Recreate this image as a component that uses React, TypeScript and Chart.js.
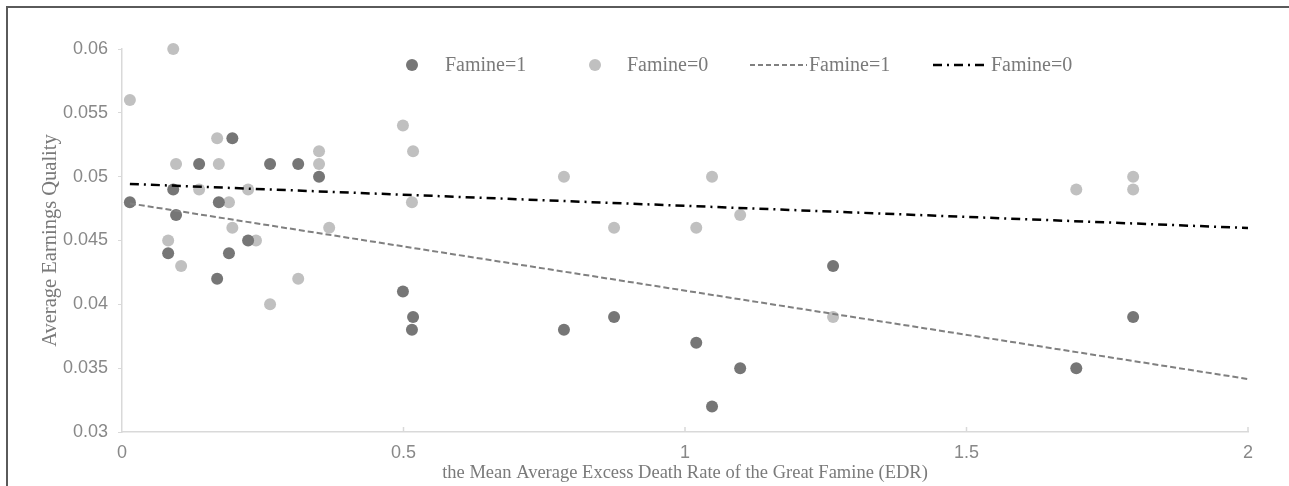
import React, { useEffect, useRef } from "react";
import { Chart, registerables } from "chart.js";

Chart.register(...registerables);

// Famine = 1 (dark points)
const famine1X = [0.014, 0.082, 0.091, 0.096, 0.137, 0.169, 0.172, 0.19, 0.196, 0.224, 0.263, 0.313, 0.35, 0.499, 0.517, 0.515, 0.785, 0.874, 1.02, 1.048, 1.098, 1.263, 1.695, 1.796];
const famine1Y = [0.048, 0.044, 0.049, 0.047, 0.051, 0.042, 0.048, 0.044, 0.053, 0.045, 0.051, 0.051, 0.05, 0.041, 0.039, 0.038, 0.038, 0.039, 0.037, 0.032, 0.035, 0.043, 0.035, 0.039];

// Famine = 0 (light points)
const famine0X = [0.014, 0.082, 0.091, 0.096, 0.105, 0.137, 0.169, 0.172, 0.19, 0.196, 0.224, 0.238, 0.263, 0.313, 0.35, 0.35, 0.368, 0.499, 0.517, 0.515, 0.785, 0.874, 1.02, 1.048, 1.098, 1.263, 1.695, 1.796, 1.796];
const famine0Y = [0.056, 0.045, 0.06, 0.051, 0.043, 0.049, 0.053, 0.051, 0.048, 0.046, 0.049, 0.045, 0.04, 0.042, 0.052, 0.051, 0.046, 0.054, 0.052, 0.048, 0.05, 0.046, 0.046, 0.05, 0.047, 0.039, 0.049, 0.05, 0.049];

// Linear trend lines
const trendX = [0.014, 2];
const trend1Y = [0.0479, 0.03415];
const trend0Y = [0.04943, 0.04598];

const legendLabels = ["Famine=1", "Famine=0", "Famine=1", "Famine=0"];
const xTitle = "the Mean Average Excess Death Rate of the Great Famine (EDR)";
const yTitle = "Average Earnings Quality";

const DARK = "#767676";
const LIGHT = "#c0c0c0";
const AXIS = "#d9d9d9";
const TICK_TEXT = "#888888";
const TITLE_TEXT = "#7a7a7a";

const toPts = (xs: number[], ys: number[]) => xs.map((x, i) => ({ x, y: ys[i] }));

const customPlugin = {
  id: "custom",
  afterDraw(chart: any) {
    const ctx = chart.ctx;
    const xs = chart.scales.x;
    const area = chart.chartArea;
    ctx.save();
    // upward x tick marks
    ctx.strokeStyle = AXIS;
    ctx.lineWidth = 1.5;
    xs.ticks.forEach((t: any) => {
      const px = xs.getPixelForValue(t.value);
      if (px <= area.left + 1) return;
      ctx.beginPath();
      ctx.moveTo(px, area.bottom);
      ctx.lineTo(px, area.bottom - 5);
      ctx.stroke();
    });
    // legend
    const ly = 65;
    ctx.font = "20px 'Liberation Serif', 'DejaVu Serif', serif";
    ctx.textBaseline = "middle";
    ctx.textAlign = "left";
    ctx.fillStyle = DARK;
    ctx.beginPath();
    ctx.arc(412, ly, 6, 0, Math.PI * 2);
    ctx.fill();
    ctx.fillStyle = LIGHT;
    ctx.beginPath();
    ctx.arc(595, ly, 6, 0, Math.PI * 2);
    ctx.fill();
    ctx.strokeStyle = "#808080";
    ctx.lineWidth = 2;
    ctx.setLineDash([5, 3]);
    ctx.beginPath();
    ctx.moveTo(750, ly);
    ctx.lineTo(807, ly);
    ctx.stroke();
    ctx.strokeStyle = "#000000";
    ctx.lineWidth = 2.5;
    ctx.setLineDash([9, 5, 2, 5]);
    ctx.beginPath();
    ctx.moveTo(933, ly);
    ctx.lineTo(988, ly);
    ctx.stroke();
    ctx.setLineDash([]);
    ctx.fillStyle = TITLE_TEXT;
    ctx.fillText(legendLabels[0], 445, ly + 1);
    ctx.fillText(legendLabels[1], 627, ly + 1);
    ctx.fillText(legendLabels[2], 809, ly + 1);
    ctx.fillText(legendLabels[3], 991, ly + 1);
    ctx.restore();
  },
};

export default function App() {
  const ref = useRef<HTMLCanvasElement | null>(null);

  useEffect(() => {
    if (!ref.current) return;
    const chart = new Chart(ref.current, {
      type: "scatter",
      data: {
        datasets: [
          {
            type: "line",
            label: "Famine=1 trend",
            data: toPts(trendX, trend1Y),
            borderColor: "#808080",
            borderWidth: 2,
            borderDash: [6, 3],
            pointRadius: 0,
            fill: false,
            order: 1,
          } as any,
          {
            type: "line",
            label: "Famine=0 trend",
            data: toPts(trendX, trend0Y),
            borderColor: "#000000",
            borderWidth: 2.5,
            borderDash: [9, 5, 2, 5],
            pointRadius: 0,
            fill: false,
            order: 1,
          } as any,
          {
            label: "Famine=1",
            data: toPts(famine1X, famine1Y),
            backgroundColor: DARK,
            borderColor: DARK,
            pointRadius: 6,
            borderWidth: 0,
            clip: false,
            order: 2,
          } as any,
          {
            label: "Famine=0",
            data: toPts(famine0X, famine0Y),
            backgroundColor: LIGHT,
            borderColor: LIGHT,
            pointRadius: 6,
            borderWidth: 0,
            clip: false,
            order: 3,
          } as any,
        ],
      },
      options: {
        animation: false,
        responsive: false,
        maintainAspectRatio: false,
        layout: { padding: { left: 0, right: 41, top: 49, bottom: 0 } },
        plugins: {
          legend: { display: false },
          tooltip: { enabled: false },
        },
        scales: {
          x: {
            type: "linear",
            min: 0,
            max: 2,
            afterFit: (s: any) => {
              s.height = 54;
            },
            ticks: {
              stepSize: 0.5,
              color: TICK_TEXT,
              padding: 10,
              font: { family: "'Liberation Sans', Arial, sans-serif", size: 18 },
              callback: (v: any) => String(v),
            },
            grid: { display: true, drawOnChartArea: false, drawTicks: false, color: AXIS },
            border: { display: true, color: AXIS, width: 1.5 },
            title: {
              display: true,
              text: xTitle,
              color: TITLE_TEXT,
              font: { family: "'Liberation Serif', 'DejaVu Serif', serif", size: 18.5 },
              padding: { top: 0, bottom: 2 },
            },
          },
          y: {
            type: "linear",
            min: 0.03,
            max: 0.06,
            afterFit: (s: any) => {
              s.width = 122;
            },
            ticks: {
              stepSize: 0.005,
              color: TICK_TEXT,
              padding: 10,
              font: { family: "'Liberation Sans', Arial, sans-serif", size: 18 },
              callback: (v: any) => String(Number(v.toFixed(3))),
            },
            grid: { display: true, drawOnChartArea: false, drawTicks: true, tickLength: 4, color: AXIS },
            border: { display: true, color: AXIS, width: 1.5 },
            title: {
              display: true,
              text: yTitle,
              color: TITLE_TEXT,
              font: { family: "'Liberation Serif', 'DejaVu Serif', serif", size: 20.5 },
              padding: { top: 38, bottom: 0 },
            },
          },
        },
      },
      plugins: [customPlugin],
    });
    return () => chart.destroy();
  }, []);

  return (
    <div style={{ position: "fixed", left: 0, top: 0, width: 1289, height: 486, background: "#fff", overflow: "hidden" }}>
      <canvas ref={ref} width={1289} height={486} style={{ position: "absolute", left: 0, top: 0, width: 1289, height: 486 }} />
      <div
        style={{
          position: "absolute",
          left: 6,
          top: 6,
          width: 1300,
          height: 500,
          borderTop: "2px solid #5a5a5a",
          borderLeft: "2px solid #5a5a5a",
          pointerEvents: "none",
        }}
      />
    </div>
  );
}
